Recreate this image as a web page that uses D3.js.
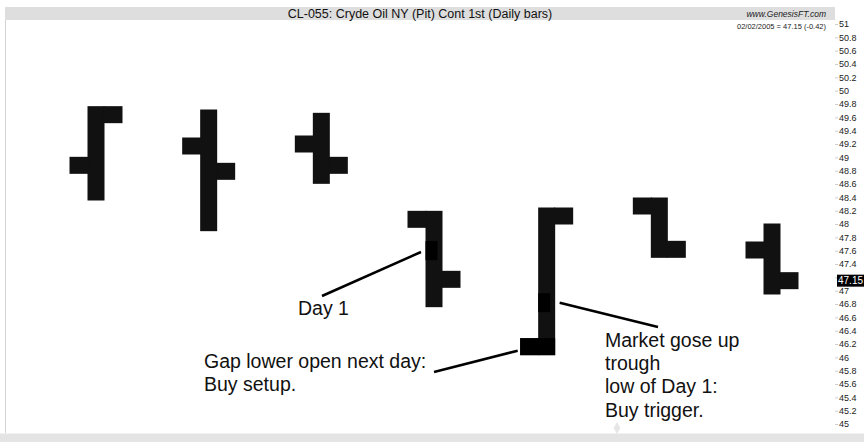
<!DOCTYPE html>
<html>
<head>
<meta charset="utf-8">
<script src="https://cdn.jsdelivr.net/npm/d3@7"></script>
<style>
  body { margin: 0; background: #fff; }
  text { font-family: "Liberation Sans", Arial, Helvetica, sans-serif; }
</style>
</head>
<body>
<div id="chart"></div>
<script>
// datos OHLC (barras diarias)
const dates  = ["2005-01-25", "2005-01-26", "2005-01-27", "2005-01-28", "2005-01-31", "2005-02-01", "2005-02-02"];
const opens  = [48.88, 49.17, 49.20, 48.07, 46.16, 48.27, 47.61];
const highs  = [49.64, 49.59, 49.54, 48.07, 48.12, 48.27, 47.88];
const lows   = [48.48, 48.02, 48.73, 46.88, 46.16, 47.62, 47.07];
const closes = [49.64, 48.79, 48.88, 47.17, 48.12, 47.62, 47.15];

const yTicks = [45, 45.2, 45.4, 45.6, 45.8, 46, 46.2, 46.4, 46.6, 46.8, 47, 47.2, 47.4, 47.6, 47.8,
                48, 48.2, 48.4, 48.6, 48.8, 49, 49.2, 49.4, 49.6, 49.8, 50, 50.2, 50.4, 50.6, 50.8, 51];

const lastValue = 47.15;
const titleText = "CL-055: Cryde Oil NY (Pit) Cont 1st (Daily bars)";
const siteText = "www.GenesisFT.com";
const infoText = "02/02/2005 = 47.15 (-0.42)";

// notas: indice de la barra y precio donde apunta la flecha
const notes = [
  { lines: ["Day 1"], bar: 3, price: 47.58 },
  { lines: ["Gap lower open next day:", "Buy setup."], bar: 4, price: 46.10 },
  { lines: ["Market gose up", "trough", "low of Day 1:", "Buy trigger."], bar: 4, price: 46.82 }
];
// marcas negras sobre las barras
const markBars = [3, 4];
const markPrices = [47.60, 46.82];

const WIDTH = 864;
const HEIGHT = 442;

const bars = dates.map((d, i) => ({
  date: d, open: opens[i], high: highs[i], low: lows[i], close: closes[i]
}));

const svg = d3.select("#chart")
  .append("svg")
  .attr("width", WIDTH)
  .attr("height", HEIGHT);

const escalaX = d3.scalePoint()
  .domain(dates)
  .range([96, 772]);

const escalaY = d3.scaleLinear()
  .domain([45, 51])
  .range([424, 24]);

// fondo / marcos
svg.append("rect")
  .attr("x", 5).attr("y", 7)
  .attr("width", 830).attr("height", 13)
  .attr("fill", "#dedede");

svg.append("line")
  .attr("x1", 5.5).attr("x2", 5.5)
  .attr("y1", 20).attr("y2", 433)
  .attr("stroke", "#d4d4d4");

svg.append("rect")
  .attr("x", 0).attr("y", 433)
  .attr("width", WIDTH).attr("height", 9)
  .attr("fill", "#e4e4e4");

svg.append("line")
  .attr("x1", 0).attr("x2", WIDTH)
  .attr("y1", 433.5).attr("y2", 433.5)
  .attr("stroke", "#f2f2f2");

// textos de cabecera
svg.append("text")
  .attr("x", 420).attr("y", 17.5)
  .attr("text-anchor", "middle")
  .attr("font-size", 12.5)
  .attr("fill", "#111")
  .text(titleText);

svg.append("text")
  .attr("x", 826).attr("y", 16.5)
  .attr("text-anchor", "end")
  .attr("font-size", 8.5)
  .attr("font-style", "italic")
  .attr("fill", "#222")
  .text(siteText);

svg.append("text")
  .attr("x", 826).attr("y", 28.5)
  .attr("text-anchor", "end")
  .attr("font-size", 7.5)
  .attr("fill", "#222")
  .text(infoText);

// eje de precios
const ejeY = d3.axisRight(escalaY)
  .tickValues(yTicks)
  .tickSize(3)
  .tickPadding(1)
  .tickFormat(d => d3.format("~g")(d));

const gEje = svg.append("g")
  .attr("transform", "translate(835,0)")
  .call(ejeY);

gEje.select(".domain").remove();
gEje.selectAll(".tick line").attr("stroke", "#cfcfcf");
gEje.selectAll(".tick text")
  .attr("font-size", 9)
  .attr("fill", "#222")
  .attr("font-family", "'Liberation Sans', Arial, sans-serif");

// etiqueta del ultimo valor
const gLast = svg.append("g");
gLast.append("rect")
  .attr("x", 837).attr("y", escalaY(lastValue) - 6)
  .attr("width", 27).attr("height", 12)
  .attr("fill", "#000");
gLast.append("text")
  .attr("x", 838).attr("y", escalaY(lastValue) + 3.5)
  .attr("font-size", 10)
  .attr("fill", "#fff")
  .text(lastValue);

// barras OHLC gruesas
const grosor = 17;
const largoTick = 18;

const grupos = svg.selectAll("g.barra")
  .data(bars)
  .join(enter => {
    const g = enter.append("g").attr("class", "barra");

    g.append("rect")
      .attr("x", d => escalaX(d.date) - grosor / 2)
      .attr("y", d => escalaY(d.high) - grosor / 2)
      .attr("width", grosor)
      .attr("height", d => escalaY(d.low) - escalaY(d.high) + grosor);

    // apertura (izquierda)
    g.append("rect")
      .attr("x", d => escalaX(d.date) - grosor / 2 - largoTick)
      .attr("y", d => escalaY(d.open) - grosor / 2)
      .attr("width", largoTick + 1)
      .attr("height", grosor);

    // cierre (derecha)
    g.append("rect")
      .attr("x", d => escalaX(d.date) + grosor / 2 - 1)
      .attr("y", d => escalaY(d.close) - grosor / 2)
      .attr("width", largoTick + 1)
      .attr("height", grosor);

    return g;
  })
  .attr("fill", "#111");

// marcas de anotacion
svg.selectAll("rect.marca")
  .data(markBars)
  .join("rect")
  .attr("class", "marca")
  .attr("x", (b, i) => escalaX(dates[b]) - grosor / 2)
  .attr("y", (b, i) => escalaY(markPrices[i]) - 9.5)
  .attr("width", 12)
  .attr("height", 19)
  .attr("fill", "#000");

svg.append("rect")
  .attr("x", escalaX(dates[4]) - grosor / 2 - largoTick)
  .attr("y", escalaY(opens[4]) - grosor / 2)
  .attr("width", largoTick + grosor)
  .attr("height", grosor)
  .attr("fill", "#000");

// textos y lineas de las notas
const notaPos = [
  { tx: 298, ty: 315, lx: 322, ly: 296, dx: -13 },
  { tx: 204, ty: 367.5, lx: 434, ly: 372, dx: -29 },
  { tx: 605, ty: 346.5, lx: 658, ly: 327, dx: 13 }
];

notes.forEach((n, i) => {
  const p = notaPos[i];
  svg.append("line")
    .attr("x1", p.lx).attr("y1", p.ly)
    .attr("x2", escalaX(dates[n.bar]) + p.dx)
    .attr("y2", escalaY(n.price))
    .attr("stroke", "#000")
    .attr("stroke-width", 2.5);

  const t = svg.append("text")
    .attr("x", p.tx).attr("y", p.ty)
    .attr("font-size", 19.5)
    .attr("fill", "#111");
  n.lines.forEach((l, j) => {
    t.append("tspan")
      .attr("x", p.tx)
      .attr("dy", j === 0 ? 0 : 23.4)
      .text(l);
  });
});

// marca de agua
svg.append("path")
  .attr("d", d3.symbol(d3.symbolDiamond, 40)())
  .attr("transform", "translate(617,428)")
  .attr("fill", "#e6e6e6");
</script>
</body>
</html>
